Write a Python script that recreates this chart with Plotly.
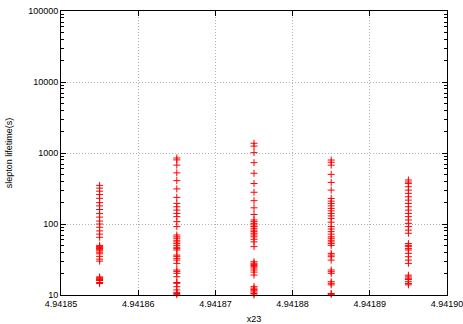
import plotly.graph_objects as go

x_positions = [4.941855, 4.941865, 4.941875, 4.941885, 4.941895]
x_ticks = [4.94185, 4.94186, 4.94187, 4.94188, 4.94189, 4.94190]
x_ticklabels = ["4.94185", "4.94186", "4.94187", "4.94188", "4.94189", "4.94190"]
y_ticks = [10, 100, 1000, 10000, 100000]
y_ticklabels = ["10", "100", "1000", "10000", "100000"]

col1 = [350, 320, 290, 260, 230, 200, 180, 160, 140, 125, 110, 100, 90, 80, 72, 65,
        50, 48, 47, 46, 45, 44, 42, 40, 38, 35, 32, 30,
        18, 17.5, 17, 16.5, 16, 15, 14.5]
col2 = [850, 800, 675, 525, 408, 312, 237, 195, 175, 157, 141, 127, 108, 92,
        70, 66, 63, 59, 56, 53, 50, 47, 45, 43, 36.5, 35, 32.8, 31, 27.9,
        22.5, 21.5, 20.2, 18.1, 15, 14.6, 13.1, 11.8, 10.9, 10.5, 10.1]
col3 = [1371, 1250, 1012, 730, 518, 372, 280, 213, 169, 136, 114, 108, 102, 97, 92, 87, 82, 78,
        74, 70, 66, 61, 56, 48,
        29.4, 28, 27, 26, 25, 24, 22.5, 21, 19.1,
        13.1, 12.5, 12, 11.5, 11, 10.5, 10]
col4 = [796, 740, 675, 500, 385, 300, 229, 210, 195, 180, 166, 153, 141, 130, 120, 106, 92, 85, 78,
        72, 66, 63, 59, 56, 53, 50, 38.6, 36.5, 34.6, 31, 22.5, 21.3, 20.2, 15.4, 14.6, 13.9, 10.5, 10.2]
col5 = [417, 390, 373, 335, 300, 270, 242, 217, 195, 175, 157, 141, 127, 114, 102, 92, 82, 74,
        53, 50, 48, 45, 43, 38.6, 34.6, 31, 27.9,
        19, 18, 17.2, 16.5, 15.4, 14.5, 13.9]

columns = [col1, col2, col3, col4, col5]

xs, ys = [], []
for xp, col in zip(x_positions, columns):
    xs.extend([xp] * len(col))
    ys.extend(col)

font = dict(family="Liberation Sans, Arial, sans-serif", size=9, color="black")

fig = go.Figure()
fig.add_trace(go.Scatter(
    x=xs, y=ys, mode="markers",
    marker=dict(symbol="cross-thin", size=5, color="red",
                line=dict(color="red", width=1)),
    showlegend=False, cliponaxis=False,
))

fig.update_layout(
    width=463, height=324,
    margin=dict(l=61, r=16, t=11, b=29),
    paper_bgcolor="white", plot_bgcolor="white",
    font=font,
)
fig.update_xaxes(
    range=[4.94185, 4.9419], tickvals=x_ticks, ticktext=x_ticklabels,
    showline=True, linecolor="black", linewidth=1, mirror="allticks",
    ticks="inside", ticklen=5, tickcolor="black", ticklabeloverflow="allow",
    showgrid=True, gridcolor="#b4b4b4", griddash="1px,2px", gridwidth=1,
    zeroline=False, automargin=False,
    title=dict(text="x23", font=font, standoff=7),
)
fig.update_yaxes(
    type="log", range=[1, 5],
    tickvals=y_ticks, ticktext=y_ticklabels,
    showline=True, linecolor="black", linewidth=1, mirror="allticks",
    ticks="inside", ticklen=5, tickcolor="black",
    minor=dict(ticks="inside", ticklen=3, tickcolor="black",
               tickvals=[v * 10 ** e for e in range(1, 5) for v in range(2, 10)]),
    showgrid=True, gridcolor="#b4b4b4", griddash="1px,2px", gridwidth=1,
    zeroline=False, automargin=False,
    title=dict(text="slepton lifetime(s)", font=font, standoff=14),
)

fig.write_html(
    "out.html",
    config={"displayModeBar": False},
    post_script="document.body.style.margin='0';document.body.style.padding='0';",
)
